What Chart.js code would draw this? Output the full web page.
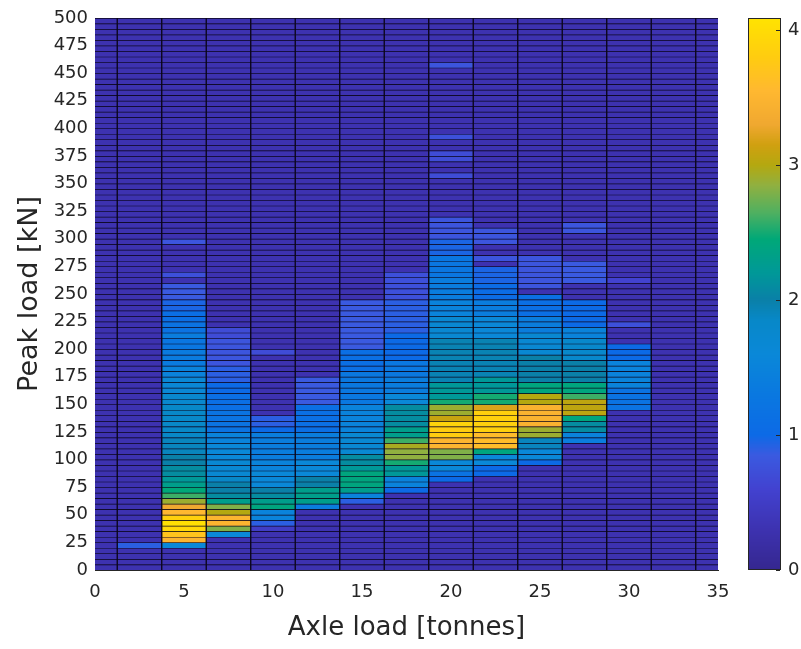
<!DOCTYPE html>
<html>
<head>
<meta charset="utf-8">
<script src="https://cdn.jsdelivr.net/npm/chart.js@4.4.0/dist/chart.umd.min.js"></script>
<style>
  html, body { margin: 0; padding: 0; background: #fff; }
  #wrap { width: 801px; height: 649px; }
</style>
</head>
<body>
<div id="wrap"><canvas id="heat" width="801" height="649"></canvas></div>
<script>
// ---- data ----
const axleLoads = [0, 2.5, 5, 7.5, 10, 12.5, 15, 17.5, 20, 22.5, 25, 27.5, 30, 32.5, 35];
const rowStep = 5;        // kN per cell
const peakMax = 500;
const cbTicks = [0, 1, 2, 3, 4];
const cbMax = 4.09;
const bgValue = 0.3;      // empty cells

// bands per column: [from kN, to kN, value]
const bands0 = [];
const bands2_5 = [[20, 25, 0.9]];
const bands5 = [[20, 25, 1.6], [25, 30, 3.5], [30, 35, 3.7], [35, 40, 3.95], [40, 45, 4.05], [45, 50, 3.85],
  [50, 55, 3.55], [55, 60, 3.3], [60, 65, 2.9], [65, 70, 2.6], [70, 75, 2.45], [75, 80, 2.3], [80, 85, 2.2],
  [85, 95, 2.1], [95, 105, 2.0], [105, 120, 1.9], [120, 150, 1.85], [150, 160, 1.75], [160, 175, 1.65],
  [175, 185, 1.5], [185, 200, 1.35], [200, 210, 1.25], [210, 215, 1.4], [215, 225, 1.2], [225, 235, 1.1],
  [235, 245, 0.95], [245, 260, 0.85], [265, 270, 0.75], [295, 300, 0.8]];
const bands7_5 = [[30, 35, 1.6], [35, 40, 2.8], [40, 50, 3.5], [50, 55, 3.0], [55, 60, 2.8], [60, 65, 2.3],
  [65, 70, 2.1], [70, 80, 2.0], [80, 85, 1.85], [85, 100, 1.7], [100, 115, 1.6], [115, 125, 1.5],
  [125, 145, 1.2], [145, 160, 1.1], [160, 170, 1.0], [170, 185, 0.9], [185, 210, 0.8], [210, 220, 0.7]];
const bands10 = [[35, 40, 0.5], [40, 45, 0.9], [45, 55, 1.5], [55, 60, 2.4], [60, 65, 2.3], [65, 70, 2.1],
  [70, 75, 2.0], [75, 90, 1.6], [90, 100, 1.5], [100, 125, 1.4], [125, 130, 1.0], [130, 140, 0.9], [195, 200, 0.7]];
const bands12_5 = [[55, 60, 1.4], [60, 75, 2.3], [75, 85, 2.0], [85, 100, 1.6], [100, 125, 1.4],
  [125, 150, 1.1], [150, 175, 0.85]];
const bands15 = [[60, 65, 0.9], [65, 70, 1.5], [70, 75, 2.3], [75, 90, 2.4], [90, 95, 2.2], [95, 105, 2.1],
  [105, 125, 1.7], [125, 150, 1.5], [150, 180, 1.3], [180, 200, 1.1], [200, 245, 0.85]];
const bands17_5 = [[70, 75, 1.0], [75, 85, 1.5], [85, 95, 2.2], [95, 100, 2.5], [100, 110, 2.85], [110, 115, 2.95],
  [115, 120, 2.6], [120, 130, 2.3], [130, 150, 2.1], [150, 160, 1.6], [160, 175, 1.4], [175, 190, 1.3],
  [190, 215, 1.0], [215, 245, 0.9], [245, 270, 0.75]];
const bands20 = [[80, 85, 1.0], [85, 90, 1.2], [90, 100, 1.6], [100, 110, 2.8], [110, 120, 3.5], [120, 130, 3.8],
  [130, 135, 3.9], [135, 140, 3.1], [140, 150, 2.9], [150, 155, 2.5], [155, 170, 2.2], [170, 210, 1.95],
  [210, 230, 1.7], [230, 245, 1.5], [245, 265, 1.4], [265, 285, 1.25], [285, 300, 0.95], [300, 320, 0.8],
  [355, 360, 0.7], [370, 380, 0.7], [390, 395, 0.75], [455, 460, 0.8]];
const bands22_5 = [[85, 95, 1.0], [95, 105, 1.6], [105, 110, 2.4], [110, 125, 3.6], [125, 145, 3.85],
  [145, 150, 3.2], [150, 160, 2.5], [160, 175, 2.2], [175, 210, 1.95], [210, 230, 1.6], [230, 245, 1.4],
  [245, 260, 1.05], [260, 275, 0.95], [280, 285, 0.8], [295, 310, 0.8]];
const bands25 = [[95, 100, 1.0], [100, 110, 1.6], [110, 120, 1.9], [120, 130, 2.9], [130, 150, 3.45],
  [150, 160, 3.0], [160, 170, 2.4], [170, 195, 2.0], [195, 215, 1.7], [215, 230, 1.4], [230, 250, 1.1],
  [255, 285, 0.8]];
const bands27_5 = [[115, 120, 1.4], [120, 125, 1.5], [125, 135, 2.1], [135, 140, 2.4], [140, 155, 3.05],
  [155, 160, 2.6], [160, 170, 2.4], [170, 190, 2.0], [190, 210, 1.8], [210, 220, 1.5], [220, 245, 1.0],
  [260, 280, 0.85], [305, 315, 0.8]];
const bands30 = [[145, 165, 1.2], [165, 190, 1.5], [190, 205, 1.0], [220, 225, 0.75], [260, 265, 0.6]];
const bands32_5 = [];
const bands35 = [];

const columnBands = [bands0, bands2_5, bands5, bands7_5, bands10, bands12_5, bands15, bands17_5,
  bands20, bands22_5, bands25, bands27_5, bands30, bands32_5, bands35];

// ---- colormap (parula-like, matched to the colour bar) ----
const cmapStops = [
  [0.0, [53, 39, 143]], [0.3, [61, 50, 176]], [0.6, [66, 66, 208]], [0.85, [58, 90, 224]],
  [1.0, [12, 106, 230]], [1.3, [10, 120, 224]], [1.6, [10, 136, 216]], [1.85, [8, 136, 200]],
  [2.0, [10, 128, 168]], [2.2, [0, 152, 152]], [2.45, [0, 168, 120]], [2.65, [80, 176, 96]],
  [2.85, [144, 176, 64]], [3.0, [180, 168, 16]], [3.15, [208, 160, 16]], [3.3, [240, 168, 48]],
  [3.55, [255, 184, 48]], [3.8, [255, 204, 16]], [4.1, [255, 228, 0]]
];
function colorFor(v) {
  if (v <= cmapStops[0][0]) return 'rgb(' + cmapStops[0][1].join(',') + ')';
  for (let i = 1; i < cmapStops.length; i++) {
    const [v1, c1] = cmapStops[i];
    const [v0, c0] = cmapStops[i - 1];
    if (v <= v1) {
      const t = (v - v0) / (v1 - v0);
      const c = c0.map((a, k) => Math.round(a + (c1[k] - a) * t));
      return 'rgb(' + c.join(',') + ')';
    }
  }
  return 'rgb(' + cmapStops[cmapStops.length - 1][1].join(',') + ')';
}

// ---- cells ----
const cells = [];
axleLoads.forEach((x, i) => {
  for (let lo = 0; lo < peakMax; lo += rowStep) {
    let v = bgValue;
    columnBands[i].forEach(b => { if (lo >= b[0] && lo < b[1]) v = b[2]; });
    cells.push({ x: x, y: [lo, lo + rowStep], v: v });
  }
});

const textColor = '#262626';
const fontFamily = 'DejaVu Sans';

// dark fill under the cells so the seams between them read as edge lines
const areaFillPlugin = {
  id: 'areaFill',
  beforeDatasetsDraw(chart) {
    const { ctx, chartArea } = chart;
    ctx.save();
    ctx.fillStyle = '#160e36';
    ctx.fillRect(chartArea.left, chartArea.top, chartArea.right - chartArea.left, chartArea.bottom - chartArea.top);
    ctx.restore();
  }
};

const colorbarPlugin = {
  id: 'colorbar',
  afterDraw(chart) {
    const { ctx, chartArea } = chart;
    const x0 = chartArea.right + 30, w = 33;
    const top = chartArea.top, bot = chartArea.bottom, h = bot - top;
    ctx.save();
    for (let py = 0; py < h; py++) {
      ctx.fillStyle = colorFor(cbMax * (1 - (py + 0.5) / h));
      ctx.fillRect(x0, top + py, w, 1);
    }
    ctx.strokeStyle = textColor;
    ctx.lineWidth = 1;
    ctx.strokeRect(x0 + 0.5, top + 0.5, w - 1, h - 1);
    ctx.fillStyle = textColor;
    ctx.font = '18px "' + fontFamily + '"';
    ctx.textAlign = 'left';
    ctx.textBaseline = 'middle';
    cbTicks.forEach(t => {
      const y = Math.round(bot - t / cbMax * h) + 0.5;
      ctx.beginPath();
      ctx.moveTo(x0 + w - 1, y);
      ctx.lineTo(x0 + w - 5, y);
      ctx.stroke();
      ctx.fillText(String(t), x0 + w + 7, y);
    });
    ctx.restore();
  }
};

new Chart(document.getElementById('heat'), {
  type: 'bar',
  data: {
    datasets: [{
      data: cells,
      backgroundColor: c => colorFor(c.raw ? c.raw.v : bgValue),
      borderColor: 'rgba(10,6,24,0.9)',
      borderWidth: { top: 1, left: 1, right: 1, bottom: 0 },
      borderSkipped: false,
      barPercentage: 1,
      categoryPercentage: 1
    }]
  },
  options: {
    responsive: false,
    animation: false,
    events: [],
    layout: { padding: { top: 18, right: 83, left: 0, bottom: 0 } },
    plugins: { legend: { display: false }, tooltip: { enabled: false } },
    scales: {
      x: {
        type: 'linear', min: 0, max: 35, offset: false,
        grid: { display: false, drawTicks: false },
        border: { color: textColor, width: 1 },
        ticks: { stepSize: 5, padding: 12, color: textColor, maxRotation: 0,
          font: { family: fontFamily, size: 18 } },
        title: { display: true, text: 'Axle load [tonnes]', color: textColor,
          font: { family: fontFamily, size: 26 }, padding: { top: 0, bottom: 5 } },
        afterFit: s => { s.height = 79; }
      },
      y: {
        type: 'linear', min: 0, max: peakMax,
        grid: { display: false, drawTicks: false },
        border: { color: textColor, width: 1 },
        ticks: { stepSize: 25, autoSkip: false, padding: 7, color: textColor,
          font: { family: fontFamily, size: 18 } },
        title: { display: true, text: 'Peak load [kN]', color: textColor,
          font: { family: fontFamily, size: 27 }, padding: { top: 14, bottom: 0 } },
        afterFit: s => { s.width = 95; }
      }
    }
  },
  plugins: [areaFillPlugin, colorbarPlugin]
});
</script>
</body>
</html>
